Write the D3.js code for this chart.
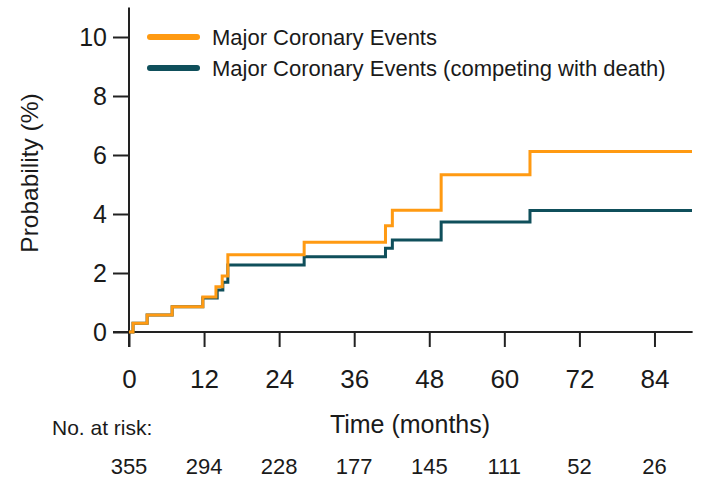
<!DOCTYPE html>
<html>
<head>
<meta charset="utf-8">
<script src="https://cdn.jsdelivr.net/npm/d3@7"></script>
<style>
  body { margin: 0; background: #fff; }
  text { font-family: "Liberation Sans", Arial, sans-serif; fill: #1a1a1a; }
</style>
</head>
<body>
<div id="chart-area"></div>
<script>
// step curves (months, %)
var mceTimes = [0, 0.64, 2.9, 6.9, 11.8, 13.9, 14.9, 15.8, 28.0, 41.0, 42.1, 49.9, 64.1, 90];
var mceValues = [0, 0.3, 0.58, 0.86, 1.19, 1.53, 1.9, 2.62, 3.04, 3.6, 4.13, 5.33, 6.12, 6.12];
var compTimes = [0, 0.64, 2.9, 6.9, 11.8, 14.1, 15.0, 15.8, 28.0, 41.0, 42.1, 49.9, 64.1, 90];
var compValues = [0, 0.3, 0.58, 0.86, 1.15, 1.42, 1.69, 2.27, 2.55, 2.84, 3.12, 3.73, 4.12, 4.12];

var xTicks = [0, 12, 24, 36, 48, 60, 72, 84];
var yTicks = [0, 2, 4, 6, 8, 10];
var atRisk = [355, 294, 228, 177, 145, 111, 52, 26];
var seriesNames = ["Major Coronary Events", "Major Coronary Events (competing with death)"];
var seriesColors = ["#ff9a12", "#0f4f5b"];

var width = 705, height = 483;

var svg = d3.select("#chart-area").append("svg")
    .attr("width", width)
    .attr("height", height);

var x = d3.scaleLinear().domain([0, 90]).range([129, 692]);
var y = d3.scaleLinear().domain([0, 10]).range([332, 37]);

// axis lines (they run past the origin like base R)
svg.append("line")
    .attr("x1", x(0) - 16).attr("x2", x(90.1))
    .attr("y1", y(0)).attr("y2", y(0))
    .attr("stroke", "#222").attr("stroke-width", 2);
svg.append("line")
    .attr("x1", x(0)).attr("x2", x(0))
    .attr("y1", y(11)).attr("y2", y(0) + 15)
    .attr("stroke", "#222").attr("stroke-width", 2);

var xAxis = svg.append("g")
    .attr("transform", "translate(0," + y(0) + ")")
    .call(d3.axisBottom(x).tickValues(xTicks).tickSize(15).tickPadding(23));
xAxis.select(".domain").remove();
xAxis.selectAll("line").attr("stroke", "#222").attr("stroke-width", 2);
xAxis.selectAll("text").style("font-size", "26px").attr("fill", "#1a1a1a")
    .style("font-family", "'Liberation Sans', Arial, sans-serif");

var yAxis = svg.append("g")
    .attr("transform", "translate(" + x(0) + ",0)")
    .call(d3.axisLeft(y).tickValues(yTicks).tickSize(16).tickPadding(6));
yAxis.select(".domain").remove();
yAxis.selectAll("line").attr("stroke", "#222").attr("stroke-width", 2);
yAxis.selectAll("text").style("font-size", "25px").attr("fill", "#1a1a1a")
    .style("font-family", "'Liberation Sans', Arial, sans-serif");

// curves
var line = d3.line()
    .x(function(d) { return x(d[0]); })
    .y(function(d) { return y(d[1]); })
    .curve(d3.curveStepAfter);

var compData = compTimes.map(function(t, i) { return [t, compValues[i]]; });
var mceData = mceTimes.map(function(t, i) { return [t, mceValues[i]]; });

svg.append("path").datum(compData)
    .attr("d", line)
    .attr("fill", "none")
    .attr("stroke", seriesColors[1])
    .attr("stroke-width", 3);
svg.append("path").datum(mceData)
    .attr("d", line)
    .attr("fill", "none")
    .attr("stroke", seriesColors[0])
    .attr("stroke-width", 3);

// legend
var legend = svg.selectAll(".leg").data(seriesNames).enter().append("g")
    .attr("class", "leg")
    .attr("transform", function(d, i) { return "translate(0," + (37 + i * 31) + ")"; });
legend.append("line")
    .attr("x1", 150).attr("x2", 197)
    .attr("stroke", function(d, i) { return seriesColors[i]; })
    .attr("stroke-width", 6)
    .attr("stroke-linecap", "round");
legend.append("text")
    .attr("x", 212).attr("dy", "0.35em")
    .style("font-size", "22px")
    .text(function(d) { return d; });

// axis titles
svg.append("text")
    .attr("transform", "translate(38,173) rotate(-90)")
    .attr("text-anchor", "middle")
    .style("font-size", "24.5px")
    .text("Probability (%)");
svg.append("text")
    .attr("x", 410).attr("y", 433)
    .attr("text-anchor", "middle")
    .style("font-size", "25px")
    .text("Time (months)");

// numbers at risk
svg.append("text")
    .attr("x", 52).attr("y", 435)
    .style("font-size", "21px")
    .text("No. at risk:");
svg.selectAll(".risk").data(atRisk).enter().append("text")
    .attr("class", "risk")
    .attr("x", function(d, i) { return x(xTicks[i]); })
    .attr("y", 474)
    .attr("text-anchor", "middle")
    .style("font-size", "22px")
    .text(function(d) { return d; });
</script>
</body>
</html>
